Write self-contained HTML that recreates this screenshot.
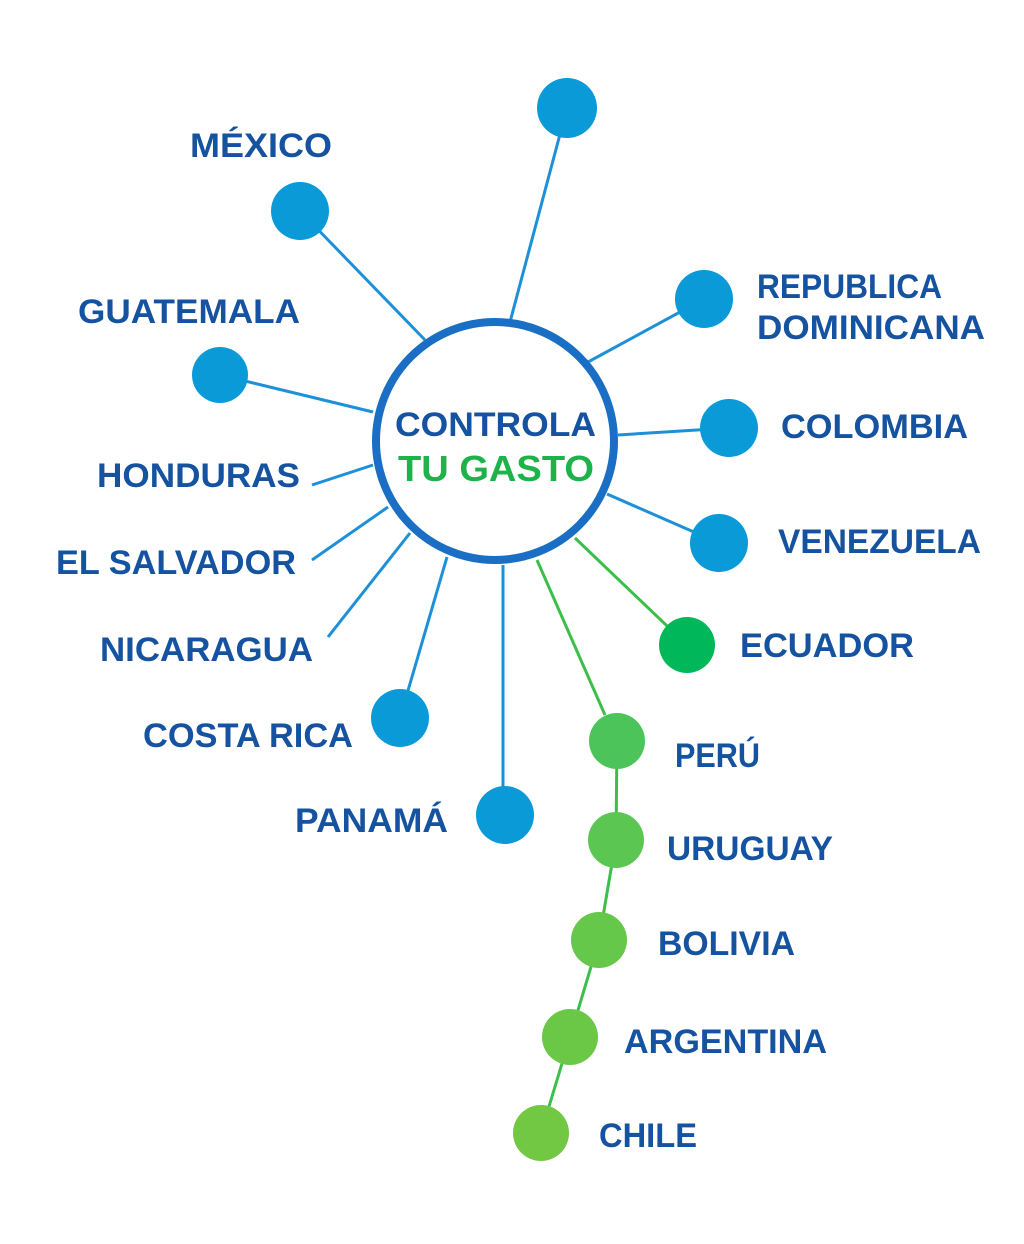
<!DOCTYPE html>
<html><head><meta charset="utf-8"><style>html,body{margin:0;padding:0;background:#fff}svg{display:block}</style></head>
<body>
<svg width="1024" height="1244" viewBox="0 0 1024 1244" xmlns="http://www.w3.org/2000/svg">
<g stroke="#1e90d8" stroke-width="3" fill="none">
<line x1="567" y1="108" x2="510" y2="322"/>
<line x1="300" y1="211" x2="425" y2="340"/>
<line x1="220" y1="375" x2="373" y2="412"/>
<line x1="704" y1="299" x2="588" y2="362"/>
<line x1="729" y1="428" x2="618" y2="435"/>
<line x1="719" y1="543" x2="607" y2="494"/>
<line x1="312" y1="485" x2="373" y2="465"/>
<line x1="312" y1="560" x2="388" y2="507"/>
<line x1="328" y1="637" x2="410" y2="533"/>
<line x1="400" y1="718" x2="447" y2="557"/>
<line x1="503" y1="565" x2="503" y2="790"/>
</g>
<g stroke="#3cbf4a" stroke-width="3" fill="none">
<line x1="687" y1="645" x2="575" y2="538"/>
<line x1="537" y1="560" x2="605" y2="715"/>
<polyline points="617,741 616,840 599,940 570,1037 541,1133"/>
</g>
<circle cx="495" cy="441" r="119" fill="#fff" stroke="#1a6fc4" stroke-width="8"/>
<g fill="#0a9ad8">
<circle cx="567" cy="108" r="30"/>
<circle cx="300" cy="211" r="29"/>
<circle cx="220" cy="375" r="28"/>
<circle cx="704" cy="299" r="29"/>
<circle cx="729" cy="428" r="29"/>
<circle cx="719" cy="543" r="29"/>
<circle cx="400" cy="718" r="29"/>
<circle cx="505" cy="815" r="29"/>
</g>
<circle cx="687" cy="645" r="28" fill="#00b85a"/>
<circle cx="617" cy="741" r="28" fill="#4cc45a"/>
<circle cx="616" cy="840" r="28" fill="#5cc652"/>
<circle cx="599" cy="940" r="28" fill="#66c84a"/>
<circle cx="570" cy="1037" r="28" fill="#6ac846"/>
<circle cx="541" cy="1133" r="28" fill="#72c842"/>
<g font-family="Liberation Sans, sans-serif" font-weight="bold" font-size="34" fill="#1552a0" lengthAdjust="spacingAndGlyphs">
<text x="190" y="157" textLength="142" lengthAdjust="spacingAndGlyphs">MÉXICO</text>
<text x="78" y="323" textLength="222" lengthAdjust="spacingAndGlyphs">GUATEMALA</text>
<text x="97" y="487" textLength="203" lengthAdjust="spacingAndGlyphs">HONDURAS</text>
<text x="56" y="574" textLength="240" lengthAdjust="spacingAndGlyphs">EL SALVADOR</text>
<text x="100" y="661" textLength="213" lengthAdjust="spacingAndGlyphs">NICARAGUA</text>
<text x="143" y="747" textLength="210" lengthAdjust="spacingAndGlyphs">COSTA RICA</text>
<text x="295" y="832" textLength="153" lengthAdjust="spacingAndGlyphs">PANAMÁ</text>
<text x="757" y="298" textLength="185" lengthAdjust="spacingAndGlyphs">REPUBLICA</text>
<text x="757" y="339" textLength="228" lengthAdjust="spacingAndGlyphs">DOMINICANA</text>
<text x="781" y="438" textLength="187" lengthAdjust="spacingAndGlyphs">COLOMBIA</text>
<text x="778" y="553" textLength="203" lengthAdjust="spacingAndGlyphs">VENEZUELA</text>
<text x="740" y="657" textLength="174" lengthAdjust="spacingAndGlyphs">ECUADOR</text>
<text x="675" y="767" textLength="85" lengthAdjust="spacingAndGlyphs">PERÚ</text>
<text x="667" y="860" textLength="166" lengthAdjust="spacingAndGlyphs">URUGUAY</text>
<text x="658" y="955" textLength="137" lengthAdjust="spacingAndGlyphs">BOLIVIA</text>
<text x="624" y="1053" textLength="203" lengthAdjust="spacingAndGlyphs">ARGENTINA</text>
<text x="599" y="1147" textLength="98" lengthAdjust="spacingAndGlyphs">CHILE</text>
<text x="395" y="436" textLength="201" lengthAdjust="spacingAndGlyphs">CONTROLA</text>
<text x="398" y="481" textLength="196" lengthAdjust="spacingAndGlyphs" fill="#1db24a" font-size="36">TU GASTO</text>
</g>
</svg>
</body></html>
